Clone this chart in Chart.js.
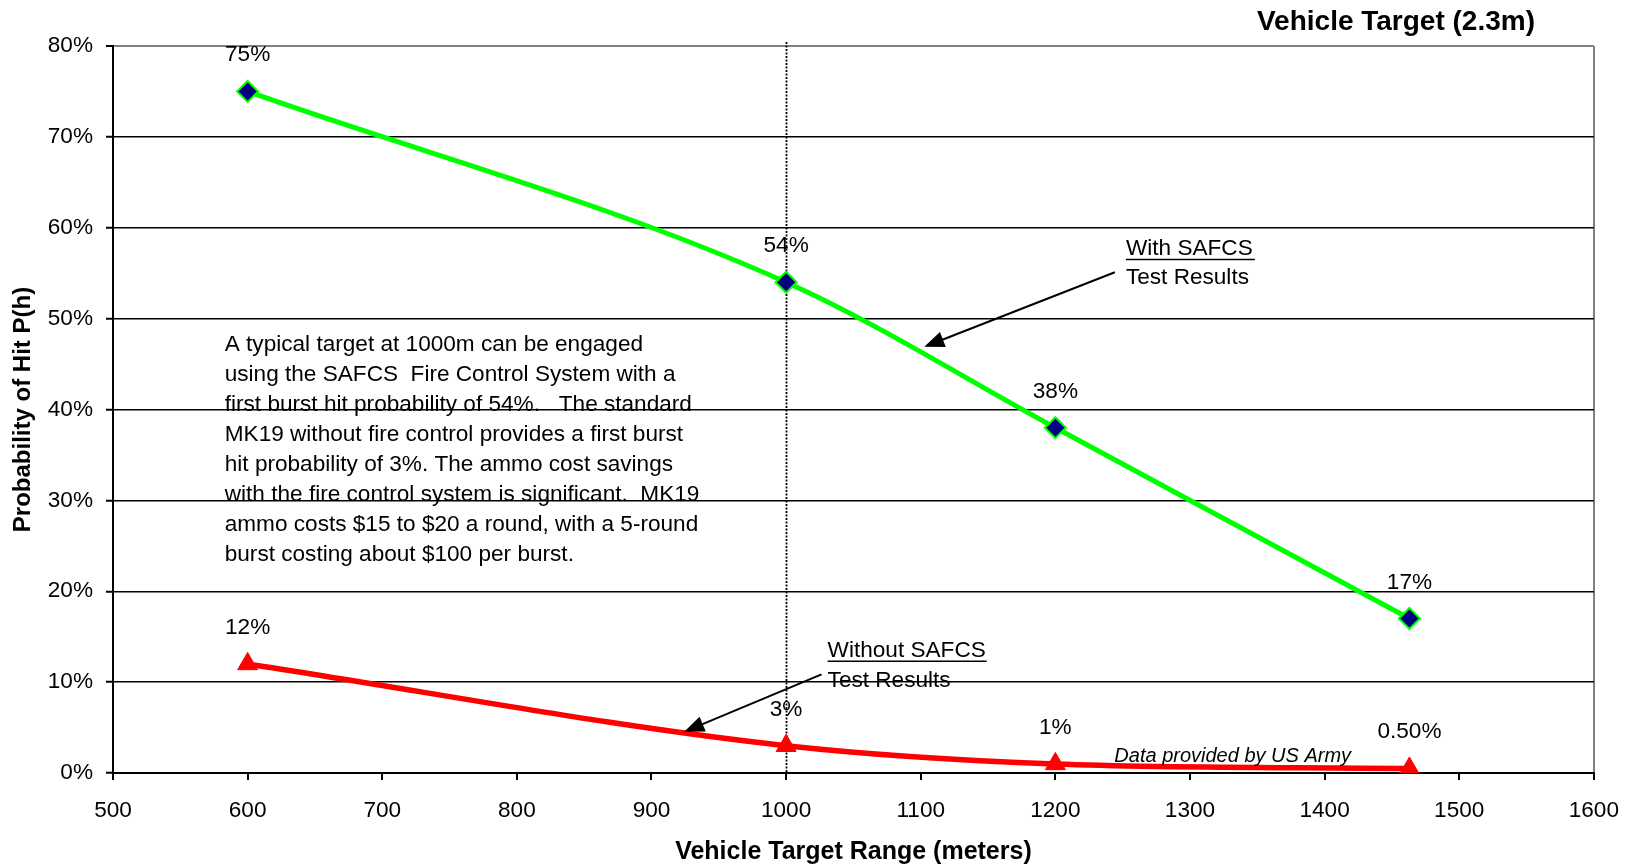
<!DOCTYPE html>
<html>
<head>
<meta charset="utf-8">
<title>Vehicle Target (2.3m)</title>
<script src="https://cdn.jsdelivr.net/npm/chart.js@4"></script>
<style>
  html, body { margin: 0; padding: 0; background: #fff; }
  #wrap { width: 1636px; height: 865px; }
</style>
</head>
<body>
<div id="wrap"><canvas id="hitChart" width="1636" height="865"></canvas></div>
<script>
// ranges in meters, hit probability in %
const ranges = [600, 1000, 1200, 1463];
const withSafcs = [75, 54, 38, 17];
const withoutSafcs = [12, 3, 1, 0.5];
const withLabels = ['75%', '54%', '38%', '17%'];
const withoutLabels = ['12%', '3%', '1%', '0.50%'];
const noteLines = [
  'A typical target at 1000m can be engaged',
  'using the SAFCS  Fire Control System with a',
  'first burst hit probability of 54%.   The standard',
  'MK19 without fire control provides a first burst',
  'hit probability of 3%. The ammo cost savings',
  'with the fire control system is significant.  MK19',
  'ammo costs $15 to $20 a round, with a 5-round',
  'burst costing about $100 per burst.'
];
const markedRange = 1000;

const FONT = '"Liberation Sans", Arial, sans-serif';
const TXT = 22.6;
const ctx = document.getElementById('hitChart').getContext('2d');

function arrow(c, x1, y1, x2, y2) {
  const a = Math.atan2(y2 - y1, x2 - x1);
  const len = 20, half = 8;
  c.beginPath();
  c.moveTo(x1, y1);
  c.lineTo(x2 - Math.cos(a) * len * 0.8, y2 - Math.sin(a) * len * 0.8);
  c.lineWidth = 2;
  c.strokeStyle = '#000';
  c.stroke();
  c.beginPath();
  c.moveTo(x2, y2);
  c.lineTo(x2 - Math.cos(a) * len + Math.sin(a) * half, y2 - Math.sin(a) * len - Math.cos(a) * half);
  c.lineTo(x2 - Math.cos(a) * len - Math.sin(a) * half, y2 - Math.sin(a) * len + Math.cos(a) * half);
  c.closePath();
  c.fillStyle = '#000';
  c.fill();
}

function underlined(c, text, x, y, endX) {
  c.fillText(text, x, y);
  c.beginPath();
  c.moveTo(x, y + 4.5);
  c.lineTo(endX, y + 4.5);
  c.lineWidth = 1.5;
  c.strokeStyle = '#000';
  c.stroke();
}

const decorations = {
  id: 'decorations',
  beforeDatasetsDraw(chart) {
    const c = chart.ctx, xs = chart.scales.x, area = chart.chartArea;
    const x = Math.round(xs.getPixelForValue(markedRange)) + 0.5;
    c.save();
    c.beginPath();
    c.setLineDash([2, 1.5]);
    c.moveTo(x, area.top - 4);
    c.lineTo(x, area.bottom);
    c.lineWidth = 1.8;
    c.strokeStyle = '#000';
    c.stroke();
    c.restore();
  },
  afterDatasetsDraw(chart) {
    const c = chart.ctx, xs = chart.scales.x, ys = chart.scales.y;
    const px = v => xs.getPixelForValue(v), py = v => ys.getPixelForValue(v);
    c.save();
    c.fillStyle = '#000';
    c.textBaseline = 'alphabetic';

    // point labels
    c.font = TXT + 'px ' + FONT;
    c.textAlign = 'center';
    [withLabels, withoutLabels].forEach((labels, di) => {
      chart.getDatasetMeta(di).data.forEach((pt, i) => {
        c.fillText(labels[i], pt.x, pt.y - 30);
      });
    });

    // explanation text
    c.textAlign = 'left';
    noteLines.forEach((line, i) => c.fillText(line, px(583), py(46.44) + i * 30));

    // callouts
    underlined(c, 'With SAFCS ', px(1252.4), py(57.0), px(1348.2));
    c.fillText('Test Results', px(1252.4), py(53.78));
    arrow(c, px(1244.2), py(55.1), px(1102.6), py(46.9));

    underlined(c, 'Without SAFCS', px(1030.8), py(12.8), px(1149));
    c.fillText('Test Results', px(1030.8), py(9.5));
    arrow(c, px(1026.3), py(10.86), px(924.3), py(4.54));

    c.font = 'italic 20px ' + FONT;
    c.fillText('Data provided by US Army', px(1243.8), py(1.21));

    // title
    c.font = 'bold 28px ' + FONT;
    c.textAlign = 'center';
    c.textBaseline = 'middle';
    c.fillText('Vehicle Target (2.3m)', 1396, 22);
    c.restore();
  }
};

new Chart(ctx, {
  type: 'line',
  data: {
    datasets: [
      {
        label: 'With SAFCS',
        data: ranges.map((r, i) => ({ x: r, y: withSafcs[i] })),
        borderColor: '#00ff00',
        borderWidth: 5,
        cubicInterpolationMode: 'monotone',
        pointStyle: 'rectRot',
        pointRadius: 10.5,
        pointBackgroundColor: '#000080',
        pointBorderColor: '#00ff00',
        pointBorderWidth: 2
      },
      {
        label: 'Without SAFCS',
        data: ranges.map((r, i) => ({ x: r, y: withoutSafcs[i] })),
        borderColor: '#ff0000',
        borderWidth: 5.5,
        cubicInterpolationMode: 'monotone',
        pointStyle: 'triangle',
        pointRadius: 11.5,
        pointBackgroundColor: '#ff0000',
        pointBorderColor: '#ff0000',
        pointBorderWidth: 1
      }
    ]
  },
  options: {
    responsive: false,
    animation: false,
    events: [],
    layout: { padding: { top: 46, right: 38, left: 0, bottom: 0 } },
    plugins: {
      legend: { display: false },
      tooltip: { enabled: false }
    },
    scales: {
      x: {
        type: 'linear',
        min: 500,
        max: 1600,
        afterFit: s => { s.height = 92; },
        ticks: { stepSize: 100, color: '#000', padding: 17, font: { family: FONT, size: TXT }, callback: v => String(v) },
        grid: {
          color: c => (c.tick && c.tick.value === 1600 ? '#808080' : 'rgba(0,0,0,0)'),
          lineWidth: 2,
          tickColor: '#000',
          tickWidth: 2,
          tickLength: 7
        },
        border: { display: true, color: '#000', width: 2 },
        title: {
          display: true,
          text: 'Vehicle Target Range (meters)',
          color: '#000',
          font: { family: FONT, size: 25, weight: 'bold' },
          padding: { top: 0, bottom: -2 }
        }
      },
      y: {
        min: 0,
        max: 80,
        afterFit: s => { s.width = 113; },
        ticks: { stepSize: 10, color: '#000', padding: 13, font: { family: FONT, size: TXT }, callback: v => v + '%' },
        grid: {
          color: c => (c.tick && c.tick.value === 80 ? '#808080' : '#000'),
          lineWidth: c => (c.tick && c.tick.value === 80 ? 2 : 1.5),
          tickColor: '#000',
          tickWidth: 2,
          tickLength: 7
        },
        border: { display: true, color: '#000', width: 2 },
        title: {
          display: true,
          text: 'Probability of Hit P(h)',
          color: '#000',
          font: { family: FONT, size: 24, weight: 'bold' },
          padding: { top: 9, bottom: 0 }
        }
      }
    }
  },
  plugins: [decorations]
});
</script>
</body>
</html>
